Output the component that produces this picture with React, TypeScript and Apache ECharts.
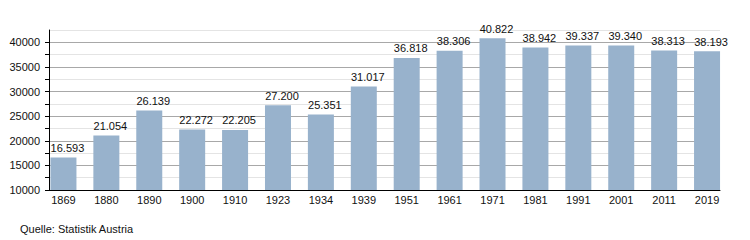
import React, { useEffect, useRef } from "react";
import * as echarts from "echarts";

const years = ["1869", "1880", "1890", "1900", "1910", "1923", "1934", "1939", "1951", "1961", "1971", "1981", "1991", "2001", "2011", "2019"];
const population = [16593, 21054, 26139, 22272, 22205, 27200, 25351, 31017, 36818, 38306, 40822, 38942, 39337, 39340, 38313, 38193];
const yMin = 10000;
const yMax = 42500;
const yStep = 2500;
const sourceText = "Quelle: Statistik Austria";

const fmt = (v: number) => {
  const s = String(Math.round(v));
  return s.replace(/\B(?=(\d{3})+(?!\d))/g, ".");
};

export default function App() {
  const ref = useRef<HTMLDivElement>(null);
  useEffect(() => {
    document.body.style.margin = "0";
    if (!ref.current) return;
    const chart = echarts.init(ref.current, null, { renderer: "svg" });
    const font = "Liberation Sans, Arial, sans-serif";
    chart.setOption({
      animation: false,
      textStyle: { fontFamily: font },
      grid: [
        { left: 49, right: 30, top: 30, bottom: 50 },
        { left: 42, right: 21.5, top: 30, bottom: 50 },
      ],
      xAxis: [
        {
          gridIndex: 0,
          type: "value",
          min: 0,
          max: 1,
          axisLine: { show: true, onZero: false, lineStyle: { color: "#000", width: 1 } },
          axisTick: { show: false },
          axisLabel: { show: false },
          splitLine: { show: false },
        },
        {
          gridIndex: 1,
          type: "category",
          data: years,
          axisLine: { show: false },
          axisTick: { show: false },
          axisLabel: { color: "#111", fontSize: 11, margin: 4, fontFamily: font },
          splitLine: { show: false },
        },
      ],
      yAxis: [
        {
          gridIndex: 0,
          type: "value",
          min: yMin,
          max: yMax,
          interval: yStep,
          axisLine: { show: true, lineStyle: { color: "#000", width: 1 } },
          axisTick: { show: true, length: 4, lineStyle: { color: "#000" } },
          axisLabel: {
            color: "#111",
            fontSize: 11,
            margin: 9,
            fontFamily: font,
            showMaxLabel: false,
            formatter: (v: number) => (v % 5000 === 0 ? String(v) : ""),
          },
          splitLine: { show: true, lineStyle: { color: ["#a8a8a8", "#e4e4e4"], width: 1 } },
        },
        {
          gridIndex: 1,
          type: "value",
          min: yMin,
          max: yMax,
          interval: yStep,
          axisLine: { show: false },
          axisTick: { show: false },
          axisLabel: { show: false },
          splitLine: { show: false },
        },
      ],
      series: [
        {
          type: "bar",
          xAxisIndex: 1,
          yAxisIndex: 1,
          data: population,
          barWidth: 26,
          itemStyle: { color: "#98b2cc" },
          label: {
            show: true,
            position: "top",
            distance: 4,
            offset: [4, 0],
            color: "#111",
            fontSize: 11,
            fontFamily: font,
            formatter: (p: any) => fmt(p.value),
          },
        },
      ],
      graphic: [
        {
          type: "text",
          left: 20,
          top: 223,
          style: { text: sourceText, fontSize: 11, fill: "#111", fontFamily: font },
        },
      ],
    });
    return () => chart.dispose();
  }, []);
  return <div ref={ref} style={{ width: 750, height: 240 }} />;
}
